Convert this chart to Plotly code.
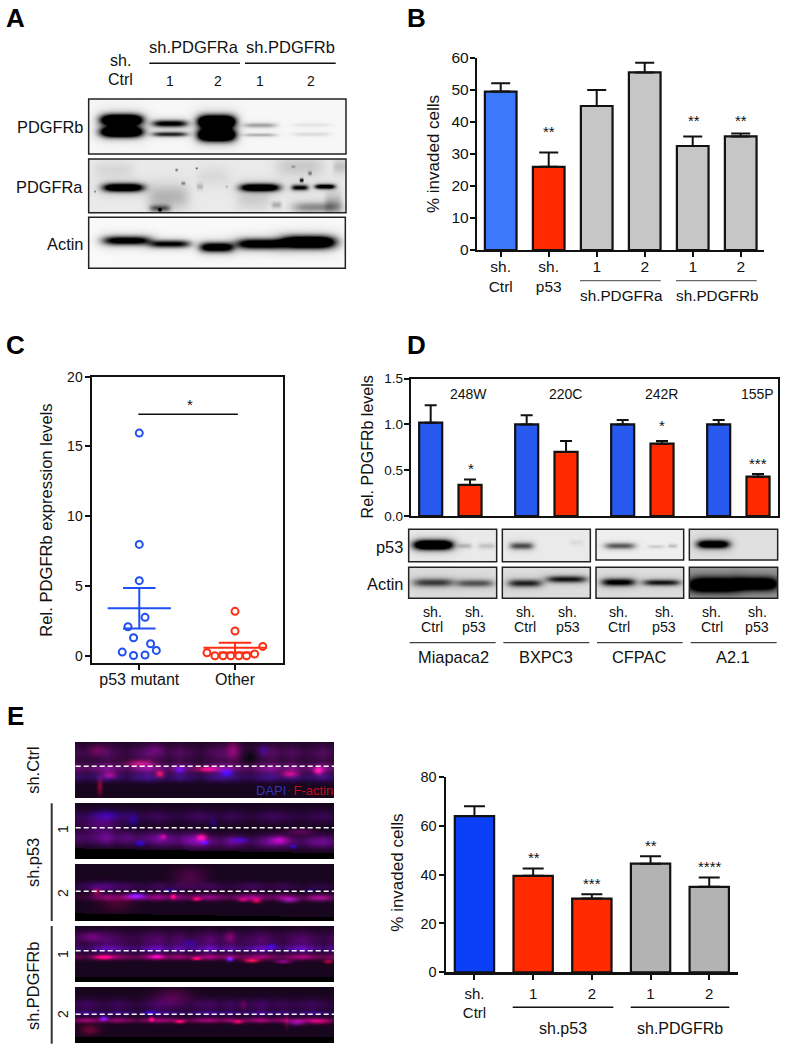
import numpy as np
import plotly.graph_objects as go

W, H = 785, 1050
FONT = "Liberation Sans"
BLACK = "#111111"

# ---------- Panel B ----------
b_labels = ["sh.<br>Ctrl", "sh.<br>p53", "1", "2", "1", "2"]
b_values = [49.5, 26, 45, 55.5, 32.5, 35.5]
b_errors = [2.6, 4.5, 5, 3, 3, 0.9]
b_colors = ["#3d78fb", "#ff2a00", "#c6c6c6", "#c6c6c6", "#c6c6c6", "#c6c6c6"]
b_ticks = [0, 10, 20, 30, 40, 50, 60]

# ---------- Panel C ----------
c_groups = ["p53 mutant", "Other"]
c_mut_x = [0, 0, 0, 0.06, -0.118, -0.06, 0.118, 0.178, -0.178, -0.06, 0.06]
c_mut_y = [15.96, 7.98, 5.38, 2.75, 2.08, 1.29, 0.86, 0.38, 0.26, 0.02, 0.05]
c_oth_x = [1, 1, 1.29, 1.205, 0.707, 0.79, 0.875, 0.955, 1.04, 1.12]
c_oth_y = [3.18, 1.77, 0.67, 0.12, 0.21, 0.0, 0.0, 0.0, 0.0, 0.0]
c_mut_stats = [3.4, 4.85, 1.95]
c_oth_stats = [0.58, 0.93, 0.23]
c_ticks = [0, 5, 10, 15, 20]

# ---------- Panel D ----------
d_ctrl = [1.02, 1.0, 1.0, 1.0]
d_ctrl_err = [0.19, 0.1, 0.05, 0.05]
d_p53 = [0.34, 0.7, 0.79, 0.43]
d_p53_err = [0.06, 0.12, 0.03, 0.03]
d_mutation = ["248W", "220C", "242R", "155P"]
d_lines = ["Miapaca2", "BXPC3", "CFPAC", "A2.1"]
d_ticks = [0, 0.5, 1.0, 1.5]

# ---------- Panel E ----------
e_labels = ["sh.<br>Ctrl", "1", "2", "1", "2"]
e_values = [64, 39.5, 30.2, 44.5, 35]
e_errors = [4, 3, 1.8, 3, 3.8]
e_colors = ["#0b3ff5", "#ff2a00", "#ff2a00", "#b3b3b3", "#b3b3b3"]
e_ticks = [0, 20, 40, 60, 80]


# ---------- Bands read from the blots (positions in 3x crop pixels) ----------
def crop(zx, zy, ox=0, oy=0):
    return ox + zx / 3, oy + zy / 3


def gray_image(box, bg, bands, ox=0, oy=0):
    x0, y0 = crop(box[0], box[1], ox, oy)
    x1, y1 = crop(box[2], box[3], ox, oy)
    xs = np.arange(int(x0), int(x1)) + 0.5
    ys = np.arange(int(y0), int(y1)) + 0.5
    X, Y = np.meshgrid(xs, ys)
    d = np.zeros_like(X)
    for cx, cy, wx, wy, dark in bands:
        ax, ay = crop(cx, cy, ox, oy)
        u, v = (X - ax) / (wx / 3), (Y - ay) / (wy / 3)
        d += dark * np.exp(-np.abs(u) ** 4 - v ** 2)
        if wx > 15:  # soft halo round each real band
            d += 0.16 * min(dark, 1) * np.exp(-(np.abs(u) / 1.25) ** 4 - (v / 2.0) ** 2)
    g = 255 * bg * (1 - np.clip(d, 0, 1))
    rgb = np.stack([g, g, g], axis=-1).astype(int).tolist()
    return go.Image(z=rgb, x0=int(x0) + 0.5, y0=int(y0) + 0.5, dx=1, dy=1, hoverinfo="skip",
                    xaxis="x", yaxis="y"), (x0, y0, x1, y1)


a_blots = [
    ((266, 297, 1038, 462), 0.97, [
        (365, 360, 62, 16, 1.8), (365, 396, 62, 15, 1.8),
        (510, 371, 52, 10, 0.95), (510, 403, 52, 7, 0.75),
        (650, 365, 55, 18, 2.0), (650, 405, 55, 18, 2.0),
        (780, 376, 48, 7, 0.3), (780, 405, 48, 5, 0.25),
        (935, 375, 55, 6, 0.07), (935, 403, 55, 6, 0.1)]),
    ((266, 477, 1038, 638), 0.92, [
        (370, 563, 60, 12, 1.4), (505, 590, 60, 35, 0.2), (480, 625, 30, 10, 0.5),
        (780, 563, 58, 11, 1.4), (900, 563, 25, 8, 0.9), (975, 560, 30, 7, 1.1),
        (950, 622, 70, 15, 0.35), (905, 541, 6, 6, 0.9), (930, 520, 6, 6, 0.4),
        (530, 510, 4, 4, 0.5), (590, 505, 3, 3, 0.6), (900, 500, 70, 30, 0.12),
        (760, 600, 50, 30, 0.1), (600, 560, 10, 10, 0.2), (340, 510, 60, 25, 0.07),
        (640, 530, 50, 30, 0.06), (1000, 610, 25, 30, 0.2), (830, 615, 15, 10, 0.25),
        (550, 550, 6, 5, 0.4), (285, 575, 3, 3, 0.4), (680, 560, 3, 3, 0.3),
        (480, 630, 5, 5, 0.8), (880, 500, 6, 4, 0.25), (1020, 500, 20, 20, 0.15)]),
    ((266, 652, 1036, 805), 0.98, [
        (380, 722, 70, 13, 1.05), (510, 732, 60, 11, 0.9), (650, 742, 50, 14, 1.2),
        (780, 732, 70, 15, 1.2), (925, 727, 80, 18, 1.7)]),
]
d_blots = [
    ((176, 598, 440, 695), 0.92, [(250, 645, 58, 14, 1.7), (345, 648, 20, 7, 0.2), (410, 648, 25, 8, 0.15)]),
    ((457, 598, 721, 695), 0.92, [(515, 648, 35, 10, 0.6), (680, 638, 20, 7, 0.06)]),
    ((738, 598, 1001, 690), 0.94, [(810, 648, 45, 9, 0.55), (918, 650, 25, 5, 0.12), (968, 648, 14, 6, 0.2)]),
    ((1018, 598, 1283, 690), 0.88, [(1090, 643, 48, 12, 1.3)]),
    ((176, 712, 440, 805), 0.87, [(250, 758, 60, 12, 0.65), (375, 760, 55, 11, 0.55)]),
    ((457, 712, 721, 805), 0.87, [(525, 760, 50, 11, 0.75), (650, 748, 60, 10, 0.8)]),
    ((738, 712, 1001, 805), 0.87, [(805, 757, 50, 11, 0.95), (935, 758, 55, 9, 0.8)]),
    ((1018, 712, 1283, 805), 0.62, [(1090, 765, 75, 22, 1.7), (1220, 762, 65, 20, 1.5)]),
]

# Uneven brightness read along the cell layer, left to right
e_lumps = [1.0, 0.7, 0.9, 1.2, 0.8, 0.6, 1.0, 1.3, 0.9, 0.7, 1.1, 0.8, 0.5,
           0.9, 1.2, 1.0, 0.7, 0.6, 1.0, 1.2, 0.8, 1.1, 0.7, 0.9, 1.3, 0.8]

# Fluorescence panels: (box, black-strip top at left, at right, blobs x,y,wx,wy,r,g,b)
e_images = [
    ((227, 128, 1002, 296), None, None, [
        (615, 160, 500, 30, 50, 5, 55), (615, 205, 500, 15, 90, 10, 95), (615, 232, 500, 14, 35, 10, 85),
        (420, 190, 40, 10, 120, 10, 50), (480, 222, 12, 10, 170, 10, 20), (620, 208, 30, 8, 150, 0, 40),
        (680, 218, 18, 10, 0, 0, 170), (870, 222, 25, 9, 140, 0, 40), (955, 212, 14, 12, 170, 10, 70),
        (300, 260, 8, 25, 110, 0, 20), (700, 150, 20, 30, 80, 0, 40), (790, 150, 12, 14, 0, 0, 70),
        (330, 225, 20, 10, 100, 0, 40), (540, 210, 14, 10, 0, 0, 110), (750, 170, 25, 20, -40, 0, -40),
        (290, 150, 25, 15, 50, 0, 20), (470, 150, 25, 20, 40, 0, 40)]),
    ((227, 309, 1002, 479), 445, 460, [
        (615, 350, 500, 20, 30, 0, 50), (400, 415, 200, 22, 65, 5, 90), (800, 425, 300, 20, 75, 5, 100),
        (300, 375, 60, 25, 50, 0, 70), (320, 345, 50, 15, 0, 0, 70), (400, 360, 15, 20, 0, 0, 80),
        (605, 412, 15, 10, 170, 10, 40), (615, 428, 10, 6, 0, 0, 150), (420, 430, 14, 8, 0, 0, 140),
        (490, 410, 10, 8, 110, 0, 40), (720, 420, 25, 8, 0, 0, 100), (880, 440, 10, 6, 0, 0, 130),
        (840, 420, 25, 12, 100, 0, 70), (640, 370, 10, 15, 0, 0, 60), (900, 395, 40, 10, 60, 0, 50)]),
    ((227, 493, 1002, 663), 640, 652, [
        (620, 592, 390, 10, 105, 0, 85), (300, 560, 70, 15, 30, 0, 55), (350, 610, 50, 25, 45, 0, 15),
        (570, 530, 50, 30, 50, 0, 40), (615, 560, 400, 14, 30, 0, 45), (410, 588, 25, 9, 60, 20, 190),
        (520, 590, 8, 8, 170, 0, 50), (590, 597, 12, 6, 170, 0, 35), (770, 602, 14, 8, 160, 0, 35),
        (870, 600, 25, 9, 90, 15, 110), (730, 600, 15, 6, 120, 0, 45), (510, 572, 20, 5, 0, 0, 110),
        (930, 572, 15, 5, 0, 0, 80), (960, 595, 40, 10, 70, 10, 60), (290, 575, 12, 10, 120, 0, 20)]),
    ((227, 678, 1002, 848), 832, 832, [
        (615, 720, 500, 28, 50, 0, 65), (615, 771, 500, 9, 115, 0, 75), (615, 747, 500, 11, 45, 5, 105),
        (690, 778, 10, 7, 40, 30, 210), (755, 782, 22, 6, 210, 10, 50), (590, 776, 14, 5, 180, 0, 50),
        (850, 785, 25, 6, 110, 0, 100), (470, 770, 20, 6, 110, 0, 90), (815, 740, 15, 8, 0, 0, 110),
        (570, 730, 20, 10, 0, 0, 80), (270, 710, 35, 15, 60, 0, 60), (690, 710, 15, 15, 60, 0, 25),
        (985, 785, 14, 6, 140, 0, 30), (310, 772, 25, 6, 150, 0, 40)]),
    ((227, 862, 1002, 1031), 1012, 1012, [
        (615, 961, 500, 8, 115, 0, 75), (615, 915, 500, 20, 35, 0, 55), (615, 940, 500, 8, 30, 0, 85),
        (312, 956, 12, 7, 60, 20, 200), (455, 958, 7, 6, 210, 0, 50), (540, 965, 14, 5, 200, 0, 50),
        (715, 966, 14, 6, 150, 0, 40), (270, 990, 30, 15, 80, 0, 25), (890, 968, 25, 9, 90, 10, 110),
        (520, 890, 55, 25, 55, 0, 40), (450, 938, 15, 6, 0, 0, 110), (860, 965, 6, 25, 50, 0, 10),
        (730, 915, 10, 15, 50, 0, 25), (960, 965, 30, 8, 100, 0, 45)]),
]


def fluor_image(box, cut_l, cut_r, blobs, shift):
    x0, y0 = crop(box[0], box[1], 0, 700)
    x1, y1 = crop(box[2], box[3], 0, 700)
    xs = np.arange(int(x0), int(x1)) + 0.5
    ys = np.arange(int(y0), int(y1)) + 0.5
    X, Y = np.meshgrid(xs, ys)
    rgb = np.zeros(X.shape + (3,))
    rgb[..., 0], rgb[..., 1], rgb[..., 2] = 24, 5, 30
    lumps = np.roll(e_lumps, shift)
    lump = np.interp(X, np.linspace(x0, x1, len(lumps)), lumps)
    for cx, cy, wx, wy, r, g, b in blobs:
        ax, ay = crop(cx, cy, 0, 700)
        p = 6 if wx > 100 else 2
        f = np.exp(-(np.abs(X - ax) / (wx / 3)) ** p - ((Y - ay) / (wy / 3)) ** 2)
        if wx > 100:
            f = f * lump
        rgb[..., 0] += r * f
        rgb[..., 1] += g * f
        rgb[..., 2] += b * f
    if cut_l is not None:
        top = 700 + (cut_l + (cut_r - cut_l) * (X - x0) / (x1 - x0)) / 3
        rgb[Y > top] = 0
    rgb = np.clip(rgb, 0, 255).astype(int).tolist()
    return go.Image(z=rgb, x0=int(x0) + 0.5, y0=int(y0) + 0.5, dx=1, dy=1, hoverinfo="skip",
                    xaxis="x", yaxis="y")


# ---------- Helpers ----------
def dom_x(a, b):
    return [a / W, b / W]


def dom_y(top, bottom):
    return [1 - bottom / H, 1 - top / H]


ann, shp = [], []


def txt(x, y, s, size=16, color=BLACK, angle=0, anchor="center", bold=False):
    ann.append(dict(x=x / W, y=1 - y / H, xref="paper", yref="paper", text=f"<b>{s}</b>" if bold else s,
                    showarrow=False, xanchor=anchor, yanchor="middle", textangle=angle,
                    font=dict(family=FONT, size=size, color=color)))


def line(x0, y0, x1, y1, w=1.5, color=BLACK, dash=None):
    shp.append(dict(type="line", xref="paper", yref="paper", x0=x0 / W, x1=x1 / W, y0=1 - y0 / H, y1=1 - y1 / H,
                    line=dict(color=color, width=w, dash=dash)))


def frame(x0, y0, x1, y1):
    shp.append(dict(type="rect", xref="paper", yref="paper", x0=x0 / W, x1=x1 / W, y0=1 - y0 / H, y1=1 - y1 / H,
                    line=dict(color="#222222", width=1.5)))


def stars(x, y, s):
    txt(x, y + 3, s, size=15)


def axis_common(**kw):
    d = dict(showgrid=False, zeroline=False, showline=True, linecolor=BLACK, linewidth=2.2, ticks="outside",
             ticklen=5, tickwidth=2, tickcolor=BLACK, tickfont=dict(family=FONT, size=15.5, color=BLACK),
             fixedrange=True, automargin=False)
    d.update(kw)
    return d


fig = go.Figure()

# Overlay pixel axes for the photographic panels
for box, bg, bands in a_blots:
    im, r = gray_image(box, bg, bands)
    fig.add_trace(im)
    frame(*r)
for box, bg, bands in d_blots:
    im, r = gray_image(box, bg, bands, 350, 330)
    fig.add_trace(im)
    frame(*r)
for i, (box, cl, cr, blobs) in enumerate(e_images):
    fig.add_trace(fluor_image(box, cl, cr, blobs, i * 5))

# Panel B bars
fig.add_trace(go.Bar(x=list(range(len(b_values))), y=b_values, width=0.66, xaxis="x2", yaxis="y2",
                     marker=dict(color=b_colors, line=dict(color=BLACK, width=2.2)),
                     error_y=dict(type="data", symmetric=False, array=b_errors, arrayminus=[0] * len(b_errors),
                                  color=BLACK, thickness=2, width=9.5)))

# Panel C scatter
BLUE_C, RED_C = "#1f4ff0", "#ff2d14"
for x, y, col in [(c_mut_x, c_mut_y, BLUE_C), (c_oth_x, c_oth_y, RED_C)]:
    fig.add_trace(go.Scatter(x=x, y=y, mode="markers", xaxis="x3", yaxis="y3", cliponaxis=False,
                             marker=dict(symbol="circle-open", size=7, color=col, line=dict(width=2, color=col))))
for c, stats, col in [(0, c_mut_stats, BLUE_C), (1, c_oth_stats, RED_C)]:
    mean, hi, lo = stats
    fig.add_trace(go.Scatter(x=[c - 0.33, c + 0.33], y=[mean, mean], mode="lines", xaxis="x3", yaxis="y3",
                             line=dict(color=col, width=2)))
    fig.add_trace(go.Scatter(x=[c, c], y=[lo, hi], mode="lines", xaxis="x3", yaxis="y3",
                             line=dict(color=col, width=2)))
    for v in (hi, lo):
        fig.add_trace(go.Scatter(x=[c - 0.17, c + 0.17], y=[v, v], mode="lines", xaxis="x3", yaxis="y3",
                                 line=dict(color=col, width=2)))
fig.add_trace(go.Scatter(x=[-0.01, 1.03], y=[17.3, 17.3], mode="lines", xaxis="x3", yaxis="y3",
                         line=dict(color=BLACK, width=1.5)))

# Panel D bars
d_x, d_y, d_e, d_c = [], [], [], []
for g in range(4):
    d_x += [g, g + 0.41]
    d_y += [d_ctrl[g], d_p53[g]]
    d_e += [d_ctrl_err[g], d_p53_err[g]]
    d_c += ["#2759ee", "#ff2a00"]
fig.add_trace(go.Bar(x=d_x, y=d_y, width=0.24, xaxis="x4", yaxis="y4",
                     marker=dict(color=d_c, line=dict(color=BLACK, width=2.2)),
                     error_y=dict(type="data", symmetric=False, array=d_e, arrayminus=[0] * len(d_e),
                                  color=BLACK, thickness=2, width=6)))

# Panel E bars
fig.add_trace(go.Bar(x=list(range(len(e_values))), y=e_values, width=0.67, xaxis="x5", yaxis="y5",
                     marker=dict(color=e_colors, line=dict(color=BLACK, width=2.2)),
                     error_y=dict(type="data", symmetric=False, array=e_errors, arrayminus=[0] * len(e_errors),
                                  color=BLACK, thickness=2, width=10.5)))

# ---------- Text and rules ----------
for s, x, y in [("A", 15.5, 17.5), ("B", 416.7, 17.7), ("C", 15.3, 345), ("D", 416.7, 345), ("E", 15, 715.7)]:
    txt(x, y, s, size=26, color="#000000", bold=True)

# A
txt(120, 61, "sh.", 16); txt(120.7, 79.3, "Ctrl", 16)
txt(194.3, 46.7, "sh.PDGFRa", 16.5); txt(290.7, 46.7, "sh.PDGFRb", 16.5)
line(149.3, 63.3, 240, 63.3); line(245, 63.3, 335.7, 63.3)
for x, s in [(170, "1"), (218.3, "2"), (260, "1"), (311, "2")]:
    txt(x, 81, s, 14)
txt(85, 127.3, "PDGFRb", 16.4, anchor="right")
txt(85, 187.3, "PDGFRa", 16.4, anchor="right")
txt(85, 244, "Actin", 16.4, anchor="right")

# B
txt(433, 154, "% invaded cells", 17, angle=-90)
line(580, 280.7, 660.7, 280.7, 1, "#444444"); line(676, 280.7, 756.7, 280.7, 1, "#444444")
txt(621, 295, "sh.PDGFRa", 15.3); txt(716.7, 295, "sh.PDGFRb", 15.3)
stars(549, 129, "**"); stars(694, 117, "**"); stars(741, 117, "**")

# C
txt(45.7, 520, "Rel. PDGFRb expression levels", 16.6, angle=-90)
stars(190, 402, "*")

# D
txt(367.7, 446.7, "Rel. PDGFRb levels", 16, angle=-90)
for s, zx in zip(d_mutation, [355, 645, 933, 1222]):
    txt(350 + zx / 3, 394, s, 14)
stars(350 + 362 / 3, 330 + 405 / 3, "*"); stars(350 + 935 / 3, 330 + 277 / 3, "*")
stars(350 + 1223 / 3, 330 + 390 / 3, "***")
txt(405, 546.7, "p53", 16.4, anchor="right"); txt(405, 584, "Actin", 16.4, anchor="right")
for i, zx in enumerate([246, 373, 526, 653, 806, 943, 1085, 1222]):
    x = 350 + zx / 3
    txt(x, 611.7, "sh.", 14.2)
    txt(x, 626.7, "Ctrl" if i % 2 == 0 else "p53", 14.2)
for (a, b), zc, s in zip([(179, 437), (460, 718), (741, 998), (1022, 1280)], [310, 588, 867, 1148], d_lines):
    line(350 + a / 3, 642.7, 350 + b / 3, 642.7, 1)
    txt(350 + zc / 3, 657.3, s, 16.4)

# E left
for zy in [199, 383, 574, 752, 943]:
    line(75.7, 700 + zy / 3, 334, 700 + zy / 3, 1.5, "#ffffff", "5px,3px")
txt(294, 790, "<span style='color:#3535b8'>DAPI</span>  <span style='color:#c01020'>F-actin</span>", 13)
line(51.7, 803.3, 51.7, 921, 2, "#333333"); line(51.7, 926, 51.7, 1043.7, 2, "#333333")
txt(33, 770.7, "sh.Ctrl", 16.4, angle=-90); txt(33, 863, "sh.p53", 16.4, angle=-90)
txt(33, 986, "sh.PDGFRb", 16.4, angle=-90)
for y, s in [(829, "1"), (893, "2"), (954, "1"), (1014, "2")]:
    txt(63, y, s, 14, angle=-90)

# E right
txt(396.7, 873, "% invaded cells", 17, angle=-90)
line(512.7, 1007.3, 613.3, 1007.3); line(630.7, 1007.3, 729.3, 1007.3)
txt(562.7, 1028, "sh.p53", 16); txt(680, 1028, "sh.PDGFRb", 16)
stars(533.7, 854.3, "**"); stars(591.7, 880, "***"); stars(651.3, 842.7, "**"); stars(710, 863.3, "****")

# ---------- Layout ----------
fig.update_layout(
    width=W, height=H, margin=dict(l=0, r=0, t=0, b=0, pad=0), autosize=False,
    paper_bgcolor="white", plot_bgcolor="rgba(0,0,0,0)", showlegend=False,
    bargap=0, annotations=ann, shapes=shp,
    xaxis=dict(domain=[0, 1], range=[0, W], visible=False, fixedrange=True, automargin=False),
    yaxis=dict(domain=[0, 1], range=[H, 0], visible=False, fixedrange=True, autorange=False, automargin=False),
    xaxis2=axis_common(domain=dom_x(477, 764), range=[-0.494, 5.485], anchor="y2", tickmode="array",
                       tickvals=list(range(6)), ticktext=b_labels, ticklabelstandoff=-4),
    yaxis2=axis_common(domain=dom_y(58, 250), range=[0, 60], anchor="x2", tickmode="array", tickvals=b_ticks,
                       ticklabelstandoff=-2),
    xaxis3=axis_common(domain=dom_x(91.7, 282.7), range=[-0.497, 1.498], anchor="y3", mirror=True,
                       tickmode="array", tickvals=[0, 1], ticktext=c_groups, ticklabelstandoff=-4,
                       tickfont=dict(family=FONT, size=16, color=BLACK)),
    yaxis3=axis_common(domain=dom_y(376.7, 662.7), range=[-0.5, 20], anchor="x3", mirror=True, tickmode="array",
                       tickvals=c_ticks, ticklabelstandoff=-1, tickfont=dict(family=FONT, size=14, color=BLACK)),
    xaxis4=axis_common(domain=dom_x(411, 778), range=[-0.205, 3.618], anchor="y4", mirror=True, ticks="",
                       showticklabels=False),
    yaxis4=axis_common(domain=dom_y(378.7, 516), range=[0, 1.5], anchor="x4", mirror=True, tickmode="array",
                       tickvals=d_ticks, ticktext=["0.0", "0.5", "1.0", "1.5"], ticklabelstandoff=-2,
                       tickfont=dict(family=FONT, size=13.5, color=BLACK)),
    xaxis5=axis_common(domain=dom_x(445.7, 738), range=[-0.49, 4.49], anchor="y5", tickmode="array",
                       tickvals=list(range(5)), ticktext=e_labels, ticklabelstandoff=1,
                       tickfont=dict(family=FONT, size=15, color=BLACK)),
    yaxis5=axis_common(domain=dom_y(777, 972.3), range=[0, 80], anchor="x5", tickmode="array", tickvals=e_ticks,
                       ticklabelstandoff=-1, tickfont=dict(family=FONT, size=14.5, color=BLACK)),
)

fig.write_html("out.html", post_script="document.body.style.margin='0';",
               config={"displayModeBar": False, "staticPlot": True})
